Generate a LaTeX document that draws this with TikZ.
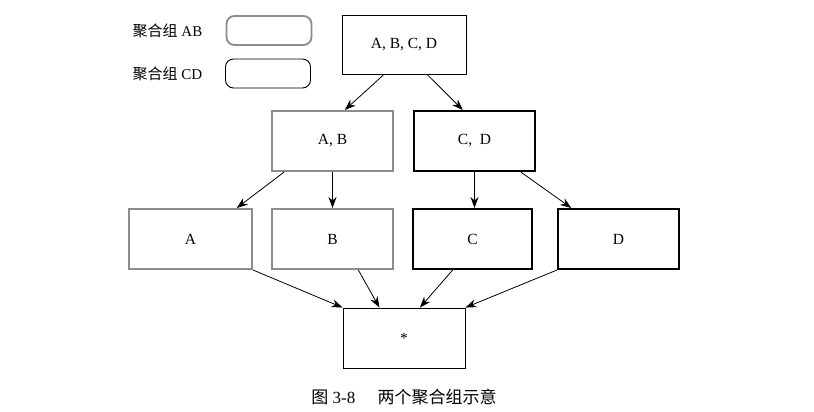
\documentclass[tikz,border=0pt]{standalone}
\usepackage{fontspec}
\setmainfont{Liberation Serif}
\newfontfamily\cjk{Noto Sans CJK SC}
\usetikzlibrary{arrows.meta,calc}
\definecolor{grayline}{HTML}{8C8C8C}
\begin{document}
\begin{tikzpicture}[x=1pt,y=-1pt,
  box/.style={draw,inner sep=0pt,font=\fontsize{15.5}{18}\selectfont},
  thinbox/.style={box,line width=0.9pt,black},
  graybox/.style={box,line width=2pt,draw=grayline},
  blackbox/.style={box,line width=2pt,black},
  legbox/.style={draw,rounded corners=8pt,minimum width=85pt,minimum height=29pt,inner sep=0pt},
  arr/.style={-{Stealth[length=11pt,width=8pt]},line width=0.8pt},
  thickarr/.style={-{Stealth[length=11pt,width=8pt]},line width=1.6pt},
  lbl/.style={font=\fontsize{15}{18}\selectfont}]
\useasboundingbox (0,0) rectangle (814,412);
% legend
\node[lbl,anchor=center] (lab) at (167.5,31) {{\cjk 聚合组} AB};
\node[lbl,anchor=center] (lcd) at (167.5,74) {{\cjk 聚合组} CD};
\node[legbox,draw=grayline,line width=1.8pt] (legab) at (269,30.5) {};
\node[legbox,black,line width=0.9pt] (legcd) at (268,73.5) {};
% nodes
\node[thinbox,minimum width=124pt,minimum height=59pt] (abcd) at (404,44.5) {A, B, C, D};
\node[graybox,minimum width=121pt,minimum height=60pt] (ab) at (332.5,141) {A, B};
\node[blackbox,minimum width=121pt,minimum height=60pt] (cd) at (474.5,141) {C,\enspace D};
\node[graybox,minimum width=123pt,minimum height=60pt] (a) at (190.5,239) {A};
\node[graybox,minimum width=121pt,minimum height=60pt] (b) at (332.5,239) {B};
\node[blackbox,minimum width=119pt,minimum height=60pt] (c) at (472.5,239) {C};
\node[blackbox,minimum width=121pt,minimum height=60pt] (d) at (618.5,239) {D};
\node[thinbox,minimum width=122pt,minimum height=60pt] (star) at (404,338) {*};
\node[font=\fontsize{17}{20}\selectfont] (cap) at (404,397) {{\cjk 图} 3-8\hspace{1.3em}{\cjk 两个聚合组示意}};
% connectors
\draw[arr] ($(abcd.south west)!0.34!(abcd.south east)$) -- ($(ab.north west)!0.6!(ab.north east)$);
\draw[arr] ($(abcd.south west)!0.685!(abcd.south east)$) -- ($(cd.north west)!0.405!(cd.north east)$);
\draw[arr] ($(ab.south west)!0.107!(ab.south east)$) -- ($(a.north west)!0.87!(a.north east)$);
\draw[arr] (ab.south) -- (b.north);
\draw[thickarr] (cd.south) -- (cd.south |- c.north);
\draw[arr] ($(cd.south west)!0.876!(cd.south east)$) -- ($(d.north west)!0.116!(d.north east)$);
\draw[arr] (a.south east) -- (star.north west);
\draw[arr] ($(b.south west)!0.71!(b.south east)$) -- ($(star.north west)!0.3!(star.north east)$);
\draw[arr] ($(c.south west)!0.336!(c.south east)$) -- ($(star.north west)!0.63!(star.north east)$);
\draw[arr] (d.south west) -- (star.north east);
\end{tikzpicture}
\end{document}
